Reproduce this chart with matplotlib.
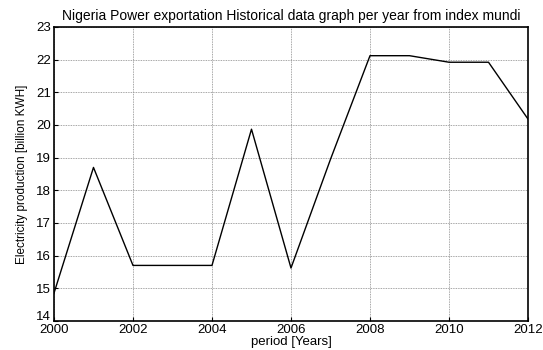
import matplotlib
matplotlib.use("Agg")
import matplotlib.pyplot as plt
import matplotlib.transforms as mtransforms

# Nigeria power data (billion KWH)
years = [2000, 2001, 2002, 2003, 2004, 2005, 2006, 2007, 2008, 2009, 2010, 2011, 2012]
power = [14.85, 18.7, 15.7, 15.7, 15.7, 19.87, 15.62, 18.95, 22.12, 22.12, 21.92, 21.92, 20.18]

plt.rcParams['font.family'] = ['Liberation Sans', 'DejaVu Sans']

fig = plt.figure(figsize=(5.43, 3.5), dpi=100)
ax = fig.add_axes([0.0994, 0.083, 0.873, 0.84])

ax.plot(years, power, color="black", linewidth=1.0)

ax.set_xlim(2000, 2012)
ax.set_ylim(14, 23)
ax.set_xticks(range(2000, 2013, 2))
ax.set_yticks(range(14, 24))
ax.grid(True, color="#888888", linestyle=(0, (1, 1)), linewidth=0.6)
ax.tick_params(direction="in", labelsize=9.5, length=3)
ax.tick_params(axis="x", pad=2)
ax.tick_params(axis="y", pad=2)
for s in ax.spines.values():
    s.set_linewidth(1.2)

# nudge the bottom y label up so it sits clear of "2000"
lab = ax.get_yticklabels()[0]
lab.set_transform(lab.get_transform() + mtransforms.ScaledTranslation(0, 4 / 72, fig.dpi_scale_trans))

ax.set_xlabel("period [Years]", fontsize=9.5, labelpad=0)
ax.set_ylabel("Electricity production [billion KWH]", fontsize=8.5, labelpad=6)
ax.set_title("Nigeria Power exportation Historical data graph per year from index mundi", fontsize=10, pad=5)

fig.savefig("out.png", dpi=100)
